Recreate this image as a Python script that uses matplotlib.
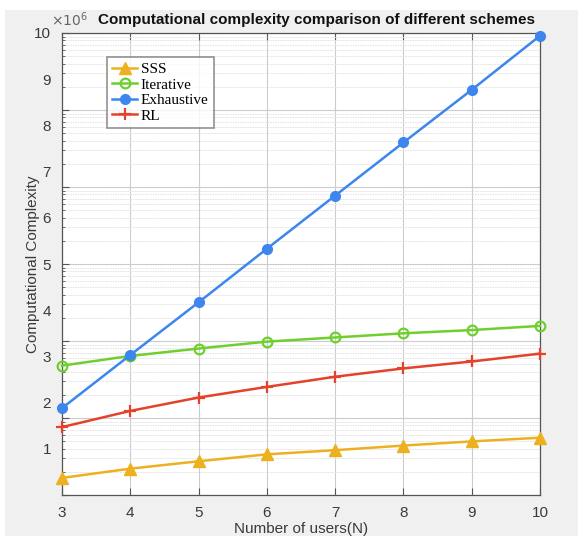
import matplotlib
matplotlib.use('Agg')
import matplotlib.pyplot as plt
from matplotlib.patches import Rectangle
from matplotlib.ticker import LogLocator, NullFormatter

# ── Data (values in units of 1e6) ─────────────────────────────────────────────
users      = [3, 4, 5, 6, 7, 8, 9, 10]
sss        = [0.37, 0.57, 0.73, 0.88, 0.97, 1.07, 1.16, 1.24]
iterative  = [2.80, 3.01, 3.17, 3.32, 3.41, 3.50, 3.57, 3.66]
exhaustive = [1.88, 3.03, 4.17, 5.33, 6.48, 7.63, 8.77, 9.94]
rl         = [1.47, 1.82, 2.11, 2.34, 2.56, 2.74, 2.89, 3.06]
y_ticks    = [1, 2, 3, 4, 5, 6, 7, 8, 9, 10]

C_SSS = '#EDB120'
C_ITR = '#6FCF2F'
C_EXH = '#3D86EE'
C_RL  = '#E2432A'
GRAY_BG = '#F0F0F0'
TXT = '#3A3A3A'

plt.rcParams['font.family'] = ['Liberation Sans', 'DejaVu Sans']

fig = plt.figure(figsize=(5.78, 5.36), dpi=100, facecolor='white')
# gray figure panel (leaves thin white strips at top/left like the screenshot)
fig.patches.append(Rectangle((5 / 578, 0), 1, 1 - 10 / 536, transform=fig.transFigure,
                             facecolor=GRAY_BG, edgecolor='none', zorder=-10))

rect = [62 / 578, 41 / 536, 478 / 578, 462 / 536]

# background axes: log-style grid (as in the original figure)
ax = fig.add_axes(rect)
ax.set_facecolor('white')
ax.set_yscale('log')
ax.set_ylim(1, 1e6)
ax.set_xlim(3, 10)
ax.yaxis.set_major_locator(LogLocator(base=10, numticks=10))
ax.yaxis.set_minor_locator(LogLocator(base=10, subs=range(2, 10), numticks=100))
ax.yaxis.set_major_formatter(NullFormatter())
ax.yaxis.set_minor_formatter(NullFormatter())
ax.set_xticks(users)
ax.grid(True, which='major', axis='both', color='#CCCCCC', lw=0.8)
ax.grid(True, which='minor', axis='y', color='#E0E0E0', lw=0.6, ls=(0, (2, 1)))
ax.tick_params(which='both', direction='in', top=True, right=True, color='#555555')
ax.tick_params(which='major', length=5)
ax.tick_params(which='minor', length=2.5)
ax.tick_params(axis='x', labelsize=11, labelcolor=TXT, pad=8)
ax.set_xticklabels([str(u) for u in users])
for s in ax.spines.values():
    s.set_color('#555555')
    s.set_linewidth(0.9)

# data axes (linear)
ax2 = ax.twinx()
ax2.yaxis.tick_left()
ax2.yaxis.set_label_position('left')
ax2.set_ylim(0, 10)
ax2.set_xlim(3, 10)
ax2.set_yticks(y_ticks)
ax2.tick_params(axis='y', length=0, labelsize=11, labelcolor=TXT, pad=8)
for s in ax2.spines.values():
    s.set_visible(False)

lw = 1.8
ax2.plot(users, sss, color=C_SSS, lw=lw, marker='^', ms=8, mfc=C_SSS, label='SSS', clip_on=False)
ax2.plot(users, iterative, color=C_ITR, lw=lw, marker='o', ms=7, mfc='none', mew=1.6,
         label='Iterative', clip_on=False)
ax2.plot(users, exhaustive, color=C_EXH, lw=lw, marker='o', ms=7, mfc=C_EXH, label='Exhaustive',
         clip_on=False)
ax2.plot(users, rl, color=C_RL, lw=lw, marker='+', ms=9, mew=1.6, label='RL', clip_on=False)

ax2.set_ylabel('Computational Complexity', fontsize=11, color=TXT)
ax2.yaxis.set_label_coords(-22 / 478, 0.5)
ax.set_xlabel('Number of users(N)', fontsize=11, color=TXT)
ax.xaxis.set_label_coords(0.5, -27 / 462)

fig.text(51 / 578, 1 - 20 / 536, r'$\times10^{6}$', fontsize=10, color='#666666',
         ha='left', va='center')
fig.text(317 / 578, 1 - 20 / 536, 'Computational complexity comparison of different schemes',
         fontsize=11, fontweight='bold', ha='center', va='center', color='#111111')

leg = ax2.legend(loc='upper left', bbox_to_anchor=(107 / 578, 1 - 57 / 536),
                 bbox_transform=fig.transFigure, frameon=True, fancybox=False,
                 prop={'family': 'Liberation Serif', 'size': 11},
                 handlelength=1.6, handletextpad=0.25, borderpad=0.35, labelspacing=0.12,
                 borderaxespad=0)
leg.get_frame().set_edgecolor('#777777')
leg.get_frame().set_linewidth(1.2)

fig.savefig('out.png', dpi=100, facecolor=fig.get_facecolor())
